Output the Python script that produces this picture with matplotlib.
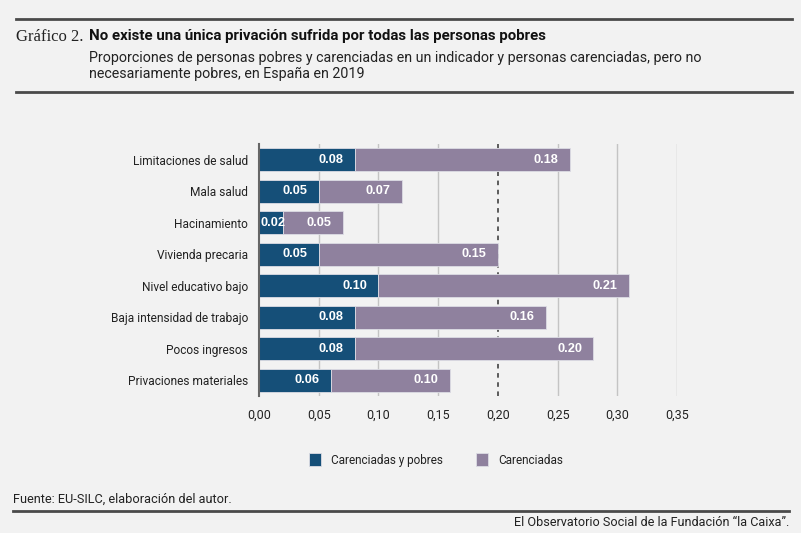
import matplotlib.pyplot as plt
import numpy as np

# Data
categorias = ['Limitaciones de salud', 'Mala salud', 'Hacinamiento', 'Vivienda precaria',
              'Nivel educativo bajo', 'Baja intensidad de trabajo', 'Pocos ingresos',
              'Privaciones materiales']
pobres = [0.08, 0.05, 0.02, 0.05, 0.10, 0.08, 0.08, 0.06]
carenciadas = [0.18, 0.07, 0.05, 0.15, 0.21, 0.16, 0.20, 0.10]
xticks = [0.00, 0.05, 0.10, 0.15, 0.20, 0.25, 0.30, 0.35]

bg = '#f2f2f2'
c_dark = '#154f78'
c_purple = '#8f819e'
txt = '#222222'
rule = '#4a4a4a'

plt.rcParams['font.family'] = ['Roboto', 'DejaVu Sans']

fig = plt.figure(figsize=(8.01, 5.33), dpi=100, facecolor=bg)
W, H = 801, 533

ax = fig.add_axes([259 / W, 1 - 396 / H, (677 - 259) / W, (396 - 144) / H])
ax.set_facecolor(bg)

y = np.arange(len(categorias))
h = 0.73
b1 = ax.barh(y, pobres, height=h, color=c_dark, edgecolor='#dcdce4', linewidth=0.6, zorder=3)
b2 = ax.barh(y, carenciadas, left=pobres, height=h, color=c_purple, edgecolor='#dcdce4',
             linewidth=0.6, zorder=3)

# value labels: centred a little before the segment end, kept inside the segment
lbl_kw = dict(ha='center', va='center', color='white', fontsize=9.2, fontweight='bold',
              family=['Liberation Sans', 'DejaVu Sans'], zorder=4)
for i in range(len(categorias)):
    x1 = max(pobres[i] - 0.02, 0.0117)
    ax.text(x1, y[i], f'{pobres[i]:.2f}', **lbl_kw)
    end = pobres[i] + carenciadas[i]
    x2 = max(end - 0.02, pobres[i] + 0.0117)
    ax.text(x2, y[i], f'{carenciadas[i]:.2f}', **lbl_kw)

ax.set_ylim(len(categorias) - 0.5, -0.5)
ax.set_xlim(0, 0.35)
ax.set_yticks(y)
ax.set_yticklabels(categorias, fontsize=8.6, color=txt)
ax.set_xticks(xticks)
ax.set_xticklabels([f'{v:.2f}'.replace('.', ',') for v in xticks], fontsize=9, color=txt)
ax.tick_params(axis='y', length=0, pad=8)
ax.tick_params(axis='x', length=0, pad=9)

# grid lines sit behind the bars; the 0.20 reference line is dashed
for v in xticks[1:]:
    if abs(v - 0.20) < 1e-9:
        ax.axvline(v, color='#333333', linestyle=(0, (3, 3)), linewidth=1.1, zorder=2)
    else:
        ax.axvline(v, color='#c4c4c4', linewidth=1, zorder=1)

for s in ['top', 'right', 'bottom']:
    ax.spines[s].set_visible(False)
ax.spines['left'].set_color('#666666')
ax.spines['left'].set_linewidth(1.5)
ax.spines['left'].set_zorder(6)

# Legend
leg = fig.legend([b1, b2], ['Carenciadas y pobres', 'Carenciadas'], loc='center',
                 bbox_to_anchor=(436 / W, 1 - 460 / H), ncol=2, frameon=False,
                 fontsize=8.5, handlelength=1.0, handleheight=1.2, columnspacing=2.8,
                 handletextpad=0.85)
for t in leg.get_texts():
    t.set_color(txt)

# Header and footer rules
def hrule(x0, x1, yy):
    fig.add_artist(plt.Line2D([x0 / W, x1 / W], [1 - yy / H, 1 - yy / H], color=rule,
                              linewidth=2.0, transform=fig.transFigure))

hrule(16, 792, 19)
hrule(16, 792, 92)
hrule(13, 789, 511)

fig.text(16 / W, 1 - 37 / H, 'Gráfico 2.', family='Liberation Serif', fontsize=12,
         color=txt, va='center')
fig.text(89 / W, 1 - 36 / H, 'No existe una única privación sufrida por todas las personas pobres',
         fontsize=10.8, fontweight='bold', color='#111111', va='center')
fig.text(89 / W, 1 - 58 / H,
         'Proporciones de personas pobres y carenciadas en un indicador y personas carenciadas, pero no',
         fontsize=10.3, color=txt, va='center')
fig.text(89 / W, 1 - 74 / H, 'necesariamente pobres, en España en 2019',
         fontsize=10.3, color=txt, va='center')

fig.text(13 / W, 1 - 499 / H, 'Fuente: EU-SILC, elaboración del autor.', fontsize=9.2,
         color=txt, va='center')
fig.text(789 / W, 1 - 522 / H, 'El Observatorio Social de la Fundación “la Caixa”.',
         fontsize=9.1, color=txt, va='center', ha='right')

fig.savefig('out.png', dpi=100, facecolor=bg)
